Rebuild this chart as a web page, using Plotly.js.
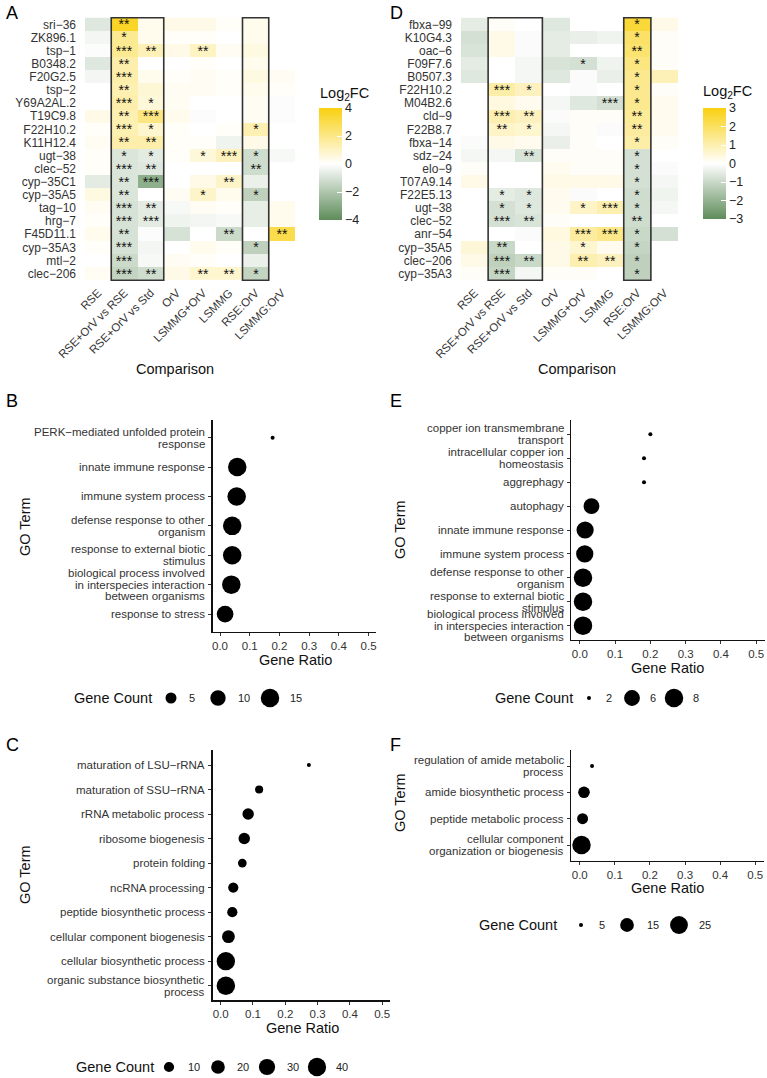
<!DOCTYPE html>
<html>
<head>
<meta charset="utf-8">
<script src="https://cdn.plot.ly/plotly-3.0.1.min.js"></script>
<style>html,body{margin:0;padding:0;background:#fff}</style>
</head>
<body>
<div id="fig" style="width:767px;height:1078px"></div>
<script>
// ---------- Heatmap data ----------
const comparisons = ["RSE", "RSE+OrV vs RSE", "RSE+OrV vs Std", "OrV", "LSMMG+OrV", "LSMMG", "RSE:OrV", "LSMMG:OrV"];

const genesA = ["sri−36", "ZK896.1", "tsp−1", "B0348.2", "F20G2.5", "tsp−2", "Y69A2AL.2", "T19C9.8", "F22H10.2", "K11H12.4",
  "ugt−38", "clec−52", "cyp−35C1", "cyp−35A5", "tag−10", "hrg−7", "F45D11.1", "cyp−35A3", "mtl−2", "clec−206"];
const log2fcA = [
  [-0.8, 3.6, 0.3, 0.4, 0.4, 0.1, 0.3, 0],
  [-0.3, 1.8, 0.3, 0.1, 0.1, 0, 0.3, 0],
  [-0.1, 1.8, 1.2, 0.4, 1.0, 0.2, 0.5, 0],
  [-0.8, 1.4, 0, 0, 0.1, 0, 0.3, 0],
  [-0.3, 1.4, 0.3, 0.1, 0.2, 0.1, 0.5, 0.2],
  [0, 1.3, 0.7, 0.2, 0.2, 0.1, 0.3, 0.1],
  [0, 1.4, 0.6, 0.2, 0, 0, 0.2, -0.1],
  [0.4, 1.3, 2.1, 0.3, -0.1, 0, 0.2, -0.1],
  [0.1, 1.3, 0.8, 0.1, 0, 0.1, 1.3, 0],
  [0.2, 1.4, 1.4, 0.1, 0.1, -0.4, 0.4, 0],
  [0.1, -0.9, -0.7, 0.1, 0.6, 1.1, -1.2, -0.2],
  [0.1, -0.9, -0.8, 0, 0, 0, -1.2, 0],
  [-0.7, -0.9, -2.8, 0, 0.4, 0.9, -0.5, 0],
  [0.5, -0.9, 0, 0.2, 0.9, 0.3, -1.6, 0],
  [0.2, -1.0, -0.7, -0.2, 0.2, 0.1, -0.6, 0.3],
  [0.1, -1.0, -0.7, -0.4, -0.3, -0.2, -0.6, 0.3],
  [0.3, -1.0, -0.1, -1.0, 0, -1.3, 0, 3.0],
  [0.1, -1.0, -0.3, 0, 0.3, 0.1, -1.6, 0],
  [0, -1.3, -0.2, 0.2, 0.1, 0, -0.5, 0],
  [0.2, -1.5, -1.2, 0.4, 0.8, 0.8, -1.5, 0]
];
const sigA = [
  ["", "**", "", "", "", "", "", ""],
  ["", "*", "", "", "", "", "", ""],
  ["", "***", "**", "", "**", "", "", ""],
  ["", "**", "", "", "", "", "", ""],
  ["", "***", "", "", "", "", "", ""],
  ["", "**", "", "", "", "", "", ""],
  ["", "***", "*", "", "", "", "", ""],
  ["", "**", "***", "", "", "", "", ""],
  ["", "***", "*", "", "", "", "*", ""],
  ["", "**", "**", "", "", "", "", ""],
  ["", "*", "*", "", "*", "***", "*", ""],
  ["", "***", "**", "", "", "", "**", ""],
  ["", "**", "***", "", "", "**", "", ""],
  ["", "**", "", "", "*", "", "*", ""],
  ["", "***", "**", "", "", "", "", ""],
  ["", "***", "***", "", "", "", "", ""],
  ["", "**", "", "", "", "**", "", "**"],
  ["", "***", "", "", "", "", "*", ""],
  ["", "***", "", "", "", "", "", ""],
  ["", "***", "**", "", "**", "**", "*", ""]
];

const genesD = ["fbxa−99", "K10G4.3", "oac−6", "F09F7.6", "B0507.3", "F22H10.2", "M04B2.6", "cld−9", "F22B8.7", "fbxa−14",
  "sdz−24", "elo−9", "T07A9.14", "F22E5.13", "ugt−38", "clec−52", "anr−54", "cyp−35A5", "clec−206", "cyp−35A3"];
const log2fcD = [
  [-0.5, 0.1, 0, -0.6, 0, 0, 2.5, 0.3],
  [-0.8, 0.3, -0.1, -0.5, -0.4, -0.3, 1.9, 0.1],
  [-0.7, 0.3, -0.1, -0.5, 0, 0, 1.8, 0.1],
  [-0.5, 0, -0.2, -0.7, -0.8, -0.3, 1.6, 0.1],
  [-0.6, 0, -0.2, -0.6, -0.1, -0.4, 1.4, 0.9],
  [0, 1.1, 0.8, 0, -0.1, 0, 1.4, 0.1],
  [0, 0.4, 0.2, -0.2, -0.6, -0.8, 1.4, 0.2],
  [0, 1.0, 0.8, -0.1, 0.1, 0.1, 1.3, 0.2],
  [0, 0.7, 0.6, -0.2, 0.1, -0.1, 1.2, 0.2],
  [-0.1, 0.3, 0.2, -0.4, 0.1, 0, 1.1, 0.1],
  [-0.2, -0.2, -0.7, 0.1, 0.1, 0.1, -0.8, 0],
  [0.1, 0, 0, 0.2, 0.1, 0.1, -0.8, -0.1],
  [0.3, 0, 0, 0.3, 0.3, 0.3, -0.8, -0.2],
  [0, -0.5, -0.6, 0.2, -0.1, 0, -0.9, -0.3],
  [0, -0.8, -0.6, 0.2, 0.7, 1.0, -0.9, -0.2],
  [0, -0.8, -0.7, 0.1, 0, 0, -0.9, 0],
  [0, 0, -0.1, 0.4, 1.2, 1.5, -1.0, -0.8],
  [0.5, -1.0, 0, 0.3, 0.6, 0.2, -1.1, 0],
  [0.3, -1.2, -1.0, 0.3, 1.0, 0.8, -1.2, 0],
  [0.1, -1.1, -0.2, 0.1, 0.1, 0, -1.2, 0]
];
const sigD = [
  ["", "", "", "", "", "", "*", ""],
  ["", "", "", "", "", "", "*", ""],
  ["", "", "", "", "", "", "**", ""],
  ["", "", "", "", "*", "", "*", ""],
  ["", "", "", "", "", "", "*", ""],
  ["", "***", "*", "", "", "", "*", ""],
  ["", "", "", "", "", "***", "*", ""],
  ["", "***", "**", "", "", "", "**", ""],
  ["", "**", "*", "", "", "", "**", ""],
  ["", "", "", "", "", "", "*", ""],
  ["", "", "**", "", "", "", "*", ""],
  ["", "", "", "", "", "", "*", ""],
  ["", "", "", "", "", "", "*", ""],
  ["", "*", "*", "", "", "", "*", ""],
  ["", "*", "*", "", "*", "***", "*", ""],
  ["", "***", "**", "", "", "", "**", ""],
  ["", "", "", "", "***", "***", "*", ""],
  ["", "**", "", "", "*", "", "*", ""],
  ["", "***", "**", "", "**", "**", "*", ""],
  ["", "***", "", "", "", "", "*", ""]
];

// ---------- GO enrichment data ----------
const termsB = ["PERK−mediated unfolded protein<br>response", "innate immune response", "immune system process",
  "defense response to other<br>organism", "response to external biotic<br>stimulus",
  "biological process involved<br>in interspecies interaction<br>between organisms", "response to stress"];
const ratioB = [0.177, 0.058, 0.056, 0.041, 0.041, 0.038, 0.017];
const countB = [2, 15, 15, 15, 15, 15, 12];
const breaksB = [5, 10, 15];

const termsE = ["copper ion transmembrane<br>transport", "intracellular copper ion<br>homeostasis", "aggrephagy", "autophagy",
  "innate immune response", "immune system process", "defense response to other<br>organism",
  "response to external biotic<br>stimulus", "biological process involved<br>in interspecies interaction<br>between organisms"];
const ratioE = [0.2, 0.182, 0.182, 0.033, 0.015, 0.014, 0.009, 0.009, 0.009];
const countE = [2, 2, 2, 6, 7, 7, 8, 8, 8];
const breaksE = [2, 6, 8];

const termsC = ["maturation of LSU−rRNA", "maturation of SSU−rRNA", "rRNA metabolic process", "ribosome biogenesis",
  "protein folding", "ncRNA processing", "peptide biosynthetic process", "cellular component biogenesis",
  "cellular biosynthetic process", "organic substance biosynthetic<br>process"];
const ratioC = [0.273, 0.119, 0.085, 0.073, 0.067, 0.039, 0.036, 0.024, 0.016, 0.016];
const countC = [3, 6, 13, 13, 7, 10, 10, 17, 40, 41];
const breaksC = [10, 20, 30, 40];

const termsF = ["regulation of amide metabolic<br>process", "amide biosynthetic process", "peptide metabolic process",
  "cellular component<br>organization or biogenesis"];
const ratioF = [0.035, 0.012, 0.008, 0.005];
const countF = [5, 11, 10, 27];
const breaksF = [5, 15, 25];

// ---------- helpers ----------
const W = 767, H = 1078;
const fx = v => v / W;          // pixel -> paper x
const fy = v => 1 - v / H;      // pixel -> paper y
const FONT = "Liberation Sans, Arial, Helvetica, sans-serif";
const GREY = "#333333";

// point diameter from gene count (area-style scale between data min and max)
function sizeScale(counts) {
  const lo = Math.min(...counts), hi = Math.max(...counts);
  return c => 4 + 14.5 * Math.sqrt(Math.max(0, c - lo) / (hi - lo));
}

const greenGold = [[0, "#5E8C5A"], [0.5, "#FFFFFF"], [1, "#F9D010"]];

// colour bar occupies exactly [cbTop, cbBottom] px; its title is drawn as an annotation
function heatTrace(z, text, genes, xa, ya, zlim, cbx, cbTop, cbBottom, tickvals) {
  return {
    type: "heatmap", z: z, x: comparisons, y: genes, text: text,
    texttemplate: "%{text}", textfont: {family: FONT, size: 14, color: "#111"},
    xaxis: xa, yaxis: ya, zmin: -zlim, zmax: zlim, colorscale: greenGold,
    xgap: 0, ygap: 0, hoverinfo: "skip",
    colorbar: {
      x: cbx, xanchor: "left", xpad: 0, ypad: 0,
      y: fy(cbTop), yanchor: "top", len: (cbBottom - cbTop) / H, lenmode: "fraction",
      thickness: 23, outlinewidth: 0,
      tickvals: tickvals, ticks: "inside", ticklen: 5, tickcolor: "white", tickwidth: 1,
      tickfont: {family: FONT, size: 12.5, color: "#222"}
    }
  };
}

function dotTrace(terms, ratio, counts, xa, ya) {
  const s = sizeScale(counts);
  return {
    type: "scatter", mode: "markers", x: ratio, y: terms, xaxis: xa, yaxis: ya,
    marker: {color: "#000000", opacity: 1, size: counts.map(s), line: {width: 0}},
    opacity: 1, showlegend: false, hoverinfo: "skip", cliponaxis: false
  };
}

const traces = [
  heatTrace(log2fcA, sigA, genesA, "x", "y", 4, fx(319), 108, 220, [-4, -2, 0, 2, 4]),
  heatTrace(log2fcD, sigD, genesD, "x2", "y2", 3, fx(703), 108, 219, [-3, -2, -1, 0, 1, 2, 3]),
  dotTrace(termsB, ratioB, countB, "x3", "y3"),
  dotTrace(termsE, ratioE, countE, "x4", "y4"),
  dotTrace(termsC, ratioC, countC, "x5", "y5"),
  dotTrace(termsF, ratioF, countF, "x6", "y6")
];

function heatX(d0, d1, anchor) {
  return {domain: [fx(d0), fx(d1)], anchor: anchor, type: "category", tickangle: -45,
    tickmode: "array", tickvals: comparisons, ticktext: comparisons,
    showgrid: false, zeroline: false, showline: false, ticks: "", ticklabelstandoff: 2,
    tickfont: {family: FONT, size: 11.5, color: GREY}};
}
function heatY(genes, anchor) {
  return {domain: [fy(281), fy(17)], anchor: anchor, type: "category", autorange: "reversed",
    tickmode: "array", tickvals: genes, ticktext: genes,
    showgrid: false, zeroline: false, showline: false, ticks: "", ticklabelstandoff: 8,
    tickfont: {family: FONT, size: 12, color: GREY}};
}
function ratioX(d0, d1, anchor) {
  return {domain: [fx(d0), fx(d1)], anchor: anchor, range: [-0.025, 0.525],
    tickvals: [0, 0.1, 0.2, 0.3, 0.4, 0.5], tickformat: ".1f",
    showgrid: false, zeroline: false, showline: true, linecolor: "#111", linewidth: 1.2,
    ticks: "outside", ticklen: 3, tickwidth: 1, tickcolor: "#333",
    tickfont: {family: FONT, size: 11.5, color: GREY}};
}
function termY(terms, top, bottom, anchor) {
  return {domain: [fy(bottom), fy(top)], anchor: anchor, type: "category",
    categoryorder: "array", categoryarray: terms, range: [terms.length - 0.4, -0.6],
    showticklabels: false,
    showgrid: false, zeroline: false, showline: true, linecolor: "#111", linewidth: 1.2,
    ticks: "outside", ticklen: 3, tickwidth: 1, tickcolor: "#333"};
}

// boxes around the highlighted comparison columns
function box(xr, yr, c0, c1, nrows) {
  return {type: "rect", xref: xr, yref: yr, x0: c0 - 0.5, x1: c1 + 0.5, y0: -0.5, y1: nrows - 0.5,
    line: {color: "#333", width: 1.6}, fillcolor: "rgba(0,0,0,0)", layer: "above"};
}

const shapes = [
  box("x", "y", 1, 2, genesA.length), box("x", "y", 6, 6, genesA.length),
  box("x2", "y2", 1, 2, genesD.length), box("x2", "y2", 6, 6, genesD.length)
];

const annotations = [];
function label(text, x, y, opts) {
  annotations.push(Object.assign({text: text, xref: "paper", yref: "paper", x: fx(x), y: fy(y),
    showarrow: false, xanchor: "center", yanchor: "middle",
    font: {family: FONT, size: 14.5, color: "#111"}}, opts || {}));
}

// GO term labels: right-aligned, wrapped lines set tightly and centred on the category
function termLabels(terms, yref, axisX) {
  const lineH = 11.8;
  terms.forEach((t, i) => {
    const lines = t.split("<br>");
    lines.forEach((ln, j) => {
      annotations.push({text: ln, xref: "paper", yref: yref, x: fx(axisX - 5.5), y: i,
        yshift: ((lines.length - 1) / 2 - j) * lineH, showarrow: false,
        xanchor: "right", yanchor: "middle",
        font: {family: FONT, size: 11.5, color: GREY}});
    });
  });
}
termLabels(termsB, "y3", 212.6);
termLabels(termsE, "y4", 571);
termLabels(termsC, "y5", 212.6);
termLabels(termsF, "y6", 571);

// panel letters
[["A", 4, 13], ["D", 388, 13], ["B", 4, 401], ["E", 388, 401], ["C", 4, 745], ["F", 388, 745]]
  .forEach(([t, x, y]) => label(t, x, y, {xanchor: "left", font: {family: FONT, size: 18, color: "#000"}}));

// colour bar titles
label("Log<sub>2</sub>FC", 318, 94, {xanchor: "left"});
label("Log<sub>2</sub>FC", 701, 92, {xanchor: "left"});

label("Comparison", 175, 369);
label("Comparison", 577, 369);
label("GO Term", 25, 527, {textangle: -90});
label("GO Term", 400, 530, {textangle: -90});
label("GO Term", 25, 875, {textangle: -90});
label("GO Term", 400, 803, {textangle: -90});
label("Gene Ratio", 295, 660);
label("Gene Ratio", 667, 668);
label("Gene Ratio", 302, 1028);
label("Gene Ratio", 667, 888);

// size legends: title, one dot per break, break label
function sizeLegend(counts, breaks, titleX, y, dotXs, labelXs) {
  const s = sizeScale(counts);
  label("Gene Count", titleX, y, {xanchor: "left"});
  breaks.forEach((b, i) => {
    const r = s(b) / 2;
    shapes.push({type: "circle", xref: "paper", yref: "paper", xsizemode: "pixel", ysizemode: "pixel",
      xanchor: fx(dotXs[i]), yanchor: fy(y), x0: -r, x1: r, y0: -r, y1: r,
      fillcolor: "black", line: {width: 0}});
    label(String(b), labelXs[i], y, {xanchor: "left", font: {family: FONT, size: 11, color: "#222"}});
  });
}
sizeLegend(countB, breaksB, 72, 698, [171, 218, 270], [187, 236, 288]);
sizeLegend(countE, breaksE, 493, 698, [589, 632, 674], [604, 648, 691]);
sizeLegend(countC, breaksC, 74, 1067, [169, 218, 267, 317], [186, 235, 285, 334]);
sizeLegend(countF, breaksF, 477, 925, [581, 627, 679], [597, 645, 697]);

const layout = {
  width: W, height: H, margin: {l: 0, r: 0, t: 0, b: 0},
  paper_bgcolor: "white", plot_bgcolor: "white",
  font: {family: FONT, color: "#111"},
  showlegend: false,
  xaxis: heatX(85, 295, "y"), yaxis: heatY(genesA, "x"),
  xaxis2: heatX(461, 678, "y2"), yaxis2: heatY(genesD, "x2"),
  xaxis3: ratioX(212.6, 376, "y3"), yaxis3: termY(termsB, 420, 631.7, "x3"),
  xaxis4: ratioX(571, 765, "y4"), yaxis4: termY(termsE, 420, 640, "x4"),
  xaxis5: ratioX(212.6, 390.3, "y5"), yaxis5: termY(termsC, 750.3, 1000.4, "x5"),
  xaxis6: ratioX(571, 764, "y6"), yaxis6: termY(termsF, 750.2, 860.8, "x6"),
  shapes: shapes, annotations: annotations
};

Plotly.newPlot("fig", traces, layout, {displayModeBar: false, staticPlot: true});
</script>
</body>
</html>
